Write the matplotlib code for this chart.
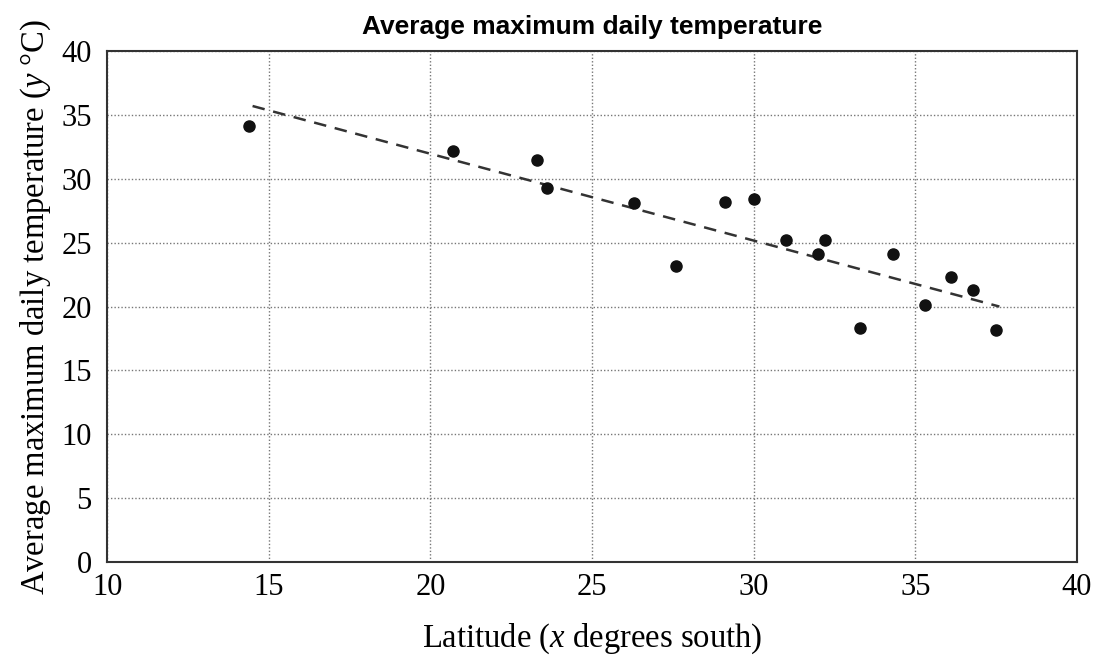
import numpy as np
import matplotlib.pyplot as plt

# values
latitude = [14.4, 20.7, 23.3, 23.6, 26.3, 27.6, 29.1, 30.0, 31.0,
            32.0, 32.2, 33.3, 34.3, 35.3, 36.1, 36.8, 37.5]
max_temp = [34.1, 32.2, 31.5, 29.3, 28.1, 23.2, 28.2, 28.4, 25.2,
            24.1, 25.2, 18.3, 24.1, 20.1, 22.3, 21.3, 18.2]

trend_x = [14.5, 37.6]
trend_y = [35.7, 20.0]

plt.rcParams['mathtext.fontset'] = 'custom'
plt.rcParams['mathtext.rm'] = 'Liberation Serif'
plt.rcParams['mathtext.it'] = 'Liberation Serif:italic'

serif = 'Liberation Serif'

fig = plt.figure(figsize=(11.04, 6.55), dpi=100)
ax = fig.add_axes([0.097, 0.142, 0.8785, 0.78])

ax.plot(latitude, max_temp, 'o', color='#111111', markersize=8, zorder=3)
ax.plot(trend_x, trend_y, linestyle=(0, (5, 3.5)), color='#333333', linewidth=1.8, zorder=2)

ax.set_xlim(10, 40)
ax.set_ylim(0, 40)
ax.set_xticks(np.arange(10, 41, 5))
ax.set_yticks(np.arange(0, 41, 5))
ax.grid(True, linestyle=(0, (1, 1.5)), color='#777777', linewidth=1.0)
ax.tick_params(length=0, labelsize=22)
ax.tick_params(axis='x', pad=8)
ax.tick_params(axis='y', pad=11)
for lab in ax.get_xticklabels() + ax.get_yticklabels():
    lab.set_family(serif)

for s in ax.spines.values():
    s.set_color('#333333')
    s.set_linewidth(1.5)

ax.set_xlabel('Latitude ($\\mathit{x}$ degrees south)', fontsize=23.5, family=serif, labelpad=14)
ax.set_ylabel('Average maximum daily temperature ($\\mathit{y}$ °C)', fontsize=23.5, family=serif, labelpad=6)
ax.set_title('Average maximum daily temperature', fontsize=19, fontweight='bold',
             family='Liberation Sans', pad=12)

fig.savefig('out.png', dpi=100)
